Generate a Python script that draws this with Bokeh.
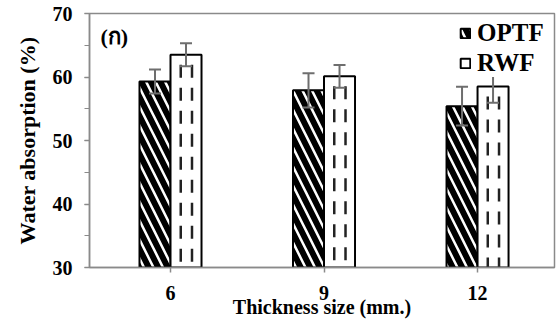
from bokeh.plotting import figure
from bokeh.models import (ColumnDataSource, Range1d, FixedTicker, SingleIntervalTicker,
                          Whisker, TeeHead, Legend, LegendItem, Label, Title)
from bokeh.transform import dodge
from bokeh.embed import file_html
from bokeh.resources import INLINE

# ---- data ----
thickness = [6, 9, 12]
tick_labels = ["6", "9", "12"]
optf = [59.3, 57.9, 55.4]
optf_err = [1.9, 2.7, 3.05]
rwf = [63.5, 60.1, 58.5]
rwf_err = [1.8, 1.8, 2.55]
series_names = ["OPTF", "RWF"]
x_title = "Thickness size (mm.)"
y_title = "Water absorption (%)"
panel_tag = "(ก)"

BAR_W = 0.606
FONT = "'Liberation Serif', 'Times New Roman', serif"

src = ColumnDataSource(dict(
    x=thickness,
    optf=optf,
    rwf=rwf,
    optf_hi=[v + e for v, e in zip(optf, optf_err)],
    optf_lo=[v - e for v, e in zip(optf, optf_err)],
    rwf_hi=[v + e for v, e in zip(rwf, rwf_err)],
    rwf_lo=[v - e for v, e in zip(rwf, rwf_err)],
    zero=[0, 0, 0],
))

p = figure(width=557, height=329, x_range=Range1d(4.417, 13.504), y_range=Range1d(30, 70),
           output_backend="svg", toolbar_location=None,
           min_border_left=89, min_border_right=3, min_border_top=13, min_border_bottom=62)
p.background_fill_color = "white"
p.border_fill_color = "white"
p.grid.visible = False
p.outline_line_color = "#8a8a8a"
p.outline_line_width = 1.5

r_opt = p.vbar(x=dodge("x", -BAR_W / 2), top="optf", width=BAR_W, source=src,
               fill_color="white", line_color="black", line_width=2,
               hatch_pattern="\\", hatch_color="black", hatch_weight=6, hatch_scale=19)
r_rwf = p.vbar(x=dodge("x", BAR_W / 2), top="rwf", width=BAR_W, source=src,
               fill_color="white", line_color="black", line_width=2)
for off in (0.2, 0.42):
    p.segment(x0=dodge("x", off), x1=dodge("x", off), y0="rwf", y1="zero", source=src,
              line_color="#222222", line_width=2.5, line_dash="13 10", line_dash_offset=13)

for base_off, hi, lo in ((-BAR_W / 2, "optf_hi", "optf_lo"), (BAR_W / 2, "rwf_hi", "rwf_lo")):
    w = Whisker(base=dodge("x", base_off), upper=hi, lower=lo, source=src,
                line_color="#6e6e6e", line_width=2, level="overlay",
                upper_head=TeeHead(size=12, line_color="#6e6e6e", line_width=2),
                lower_head=TeeHead(size=12, line_color="#6e6e6e", line_width=2))
    p.add_layout(w)

# axes
p.xaxis.ticker = FixedTicker(ticks=thickness)
p.xaxis.major_label_overrides = {t: l for t, l in zip(thickness, tick_labels)}
p.yaxis.ticker = SingleIntervalTicker(interval=10, num_minor_ticks=2)
for ax in (p.xaxis[0], p.yaxis[0]):
    ax.axis_line_color = "#8a8a8a"
    ax.axis_line_width = 1.5
    ax.major_tick_line_color = "#8a8a8a"
    ax.major_tick_line_width = 1.5
    ax.minor_tick_line_color = "#8a8a8a"
    ax.major_tick_in = 0
    ax.major_tick_out = 5
    ax.minor_tick_in = 0
    ax.minor_tick_out = 5
    ax.major_label_text_font = FONT
    ax.major_label_text_font_style = "bold"
    ax.major_label_text_font_size = "20px"
    ax.major_label_text_color = "black"
    ax.axis_label_text_font = FONT
    ax.axis_label_text_font_style = "bold"
    ax.axis_label_text_font_size = "20px"
    ax.axis_label_text_color = "black"
p.xaxis.minor_tick_line_color = None
p.xaxis.axis_label = x_title
p.xaxis.major_label_standoff = 13
p.xaxis.axis_label_standoff = -7
p.yaxis.major_label_standoff = 12

# vertical axis title (as a side title so it can sit a little below the frame centre)
p.add_layout(Title(text=y_title, align="center", offset=-17, standoff=19,
                   text_font=FONT, text_font_style="bold", text_font_size="22px",
                   text_color="black"), "left")

legend = Legend(items=[LegendItem(label=series_names[0], renderers=[r_opt]),
                       LegendItem(label=series_names[1], renderers=[r_rwf])],
                location=(370, 190), padding=2, margin=0, spacing=2,
                glyph_width=12, glyph_height=12, label_standoff=6,
                label_text_font=FONT, label_text_font_style="bold",
                label_text_font_size="25px", label_text_color="black",
                border_line_color=None, background_fill_color="white",
                background_fill_alpha=1.0)
p.add_layout(legend)

p.add_layout(Label(x=4.63, y=68.3, text=panel_tag, text_font=FONT, text_font_style="bold",
                   text_font_size="22px", text_baseline="top", text_color="black"))

open("out.html", "w").write(file_html(p, INLINE))
